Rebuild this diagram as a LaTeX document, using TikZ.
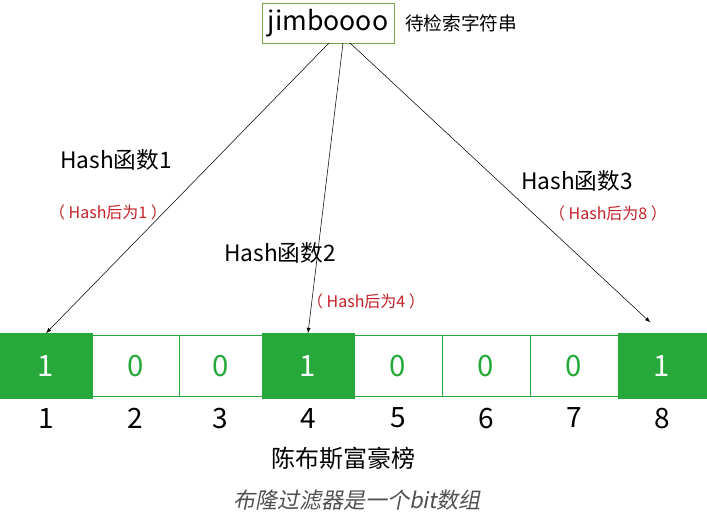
\documentclass[tikz,border=0pt]{standalone}
\usepackage{fontspec}
\setmainfont{Noto Sans CJK SC}
\newfontfamily\slantcjk{Noto Sans CJK SC}[FakeSlant=0.2]
\usetikzlibrary{positioning}
\definecolor{bitgreen}{RGB}{38,169,58}
\definecolor{boxgreen}{RGB}{122,160,74}
\definecolor{hashred}{RGB}{196,32,40}
\definecolor{notegray}{RGB}{80,80,80}

\begin{document}
\begin{tikzpicture}[x=0.75pt,y=-0.75pt,>=latex,
  bitoff/.style={rectangle,draw=bitgreen,fill=white,text=bitgreen,minimum height=45.75pt,inner sep=0pt,font=\fontsize{22}{22}\selectfont},
  biton/.style={rectangle,draw=bitgreen,fill=bitgreen,text=white,minimum height=48.75pt,inner sep=0pt,font=\fontsize{22}{22}\selectfont},
  num/.style={inner sep=0pt,font=\fontsize{21}{21}\selectfont},
  hashname/.style={inner sep=0pt,font=\fontsize{17}{17}\selectfont},
  hashval/.style={inner sep=0pt,text=hashred,font=\fontsize{12}{12}\selectfont}]

      \useasboundingbox (0,0) rectangle (707,529);

      \node[rectangle,draw=boxgreen,minimum width=99pt,minimum height=30pt,inner sep=0pt,font=\fontsize{20}{20}\selectfont] (w) at (328,23){jimboooo};
      \node[inner sep=0pt,anchor=west,font=\fontsize{14}{14}\selectfont] (t) at (405,23){待检索字符串};

      \coordinate (s1) at (329,43);
      \coordinate (s2) at (343,43);
      \coordinate (s3) at (350,43);

      % bit array
      \node[bitoff,minimum width=65.25pt] (c2) at (135.5,366){0};
      \node[bitoff,minimum width=62.25pt] (c3) at (220.5,366){0};
      \node[bitoff,minimum width=66pt] (c5) at (398,366){0};
      \node[bitoff,minimum width=66pt] (c6) at (486,366){0};
      \node[bitoff,minimum width=66pt] (c7) at (574,366){0};
      \node[biton,minimum width=69pt] (c1) at (46,366){1};
      \node[biton,minimum width=69pt] (c4) at (308,366){1};
      \node[biton,minimum width=66pt] (c8) at (662,366){1};

      \node[num,below=7pt of c1] (n1) {1};
      \node[num,below=8pt of c2] (n2) {2};
      \node[num,below=8pt of c3] (n3) {3};
      \node[num,below=7pt of c4] (n4) {4};
      \node[num,below=8pt of c5] (n5) {5};
      \node[num,below=8pt of c6] (n6) {6};
      \node[num,below=8pt of c7] (n7) {7};
      \node[num,below=7pt of c8] (n8) {8};

      \node[hashname] (h1) at (116,160){Hash函数1};
      \node[hashval] (v1) at (108,212){（ Hash后为1 ）};
      \node[hashname] (h2) at (280,253){Hash函数2};
      \node[hashval] (v2) at (366,301){（ Hash后为4 ）};
      \node[hashname] (h3) at (577,181){Hash函数3};
      \node[hashval] (v3) at (608,213){（ Hash后为8 ）};

      \node[inner sep=0pt,font=\fontsize{18}{18}\selectfont] (r) at (343,458){陈布斯富豪榜};
      \node[inner sep=0pt,text=notegray,font=\fontsize{16.5}{16.5}\selectfont\slantcjk] (b) at (357,500){布隆过滤器是一个bit数组};

      \draw[->] (s1) -- (c1.north);
      \draw[->] (s2) -- (c4.north);
      \draw[->,shorten >=12pt] (s3) -- (c8.north);
    \end{tikzpicture}
\end{document}
